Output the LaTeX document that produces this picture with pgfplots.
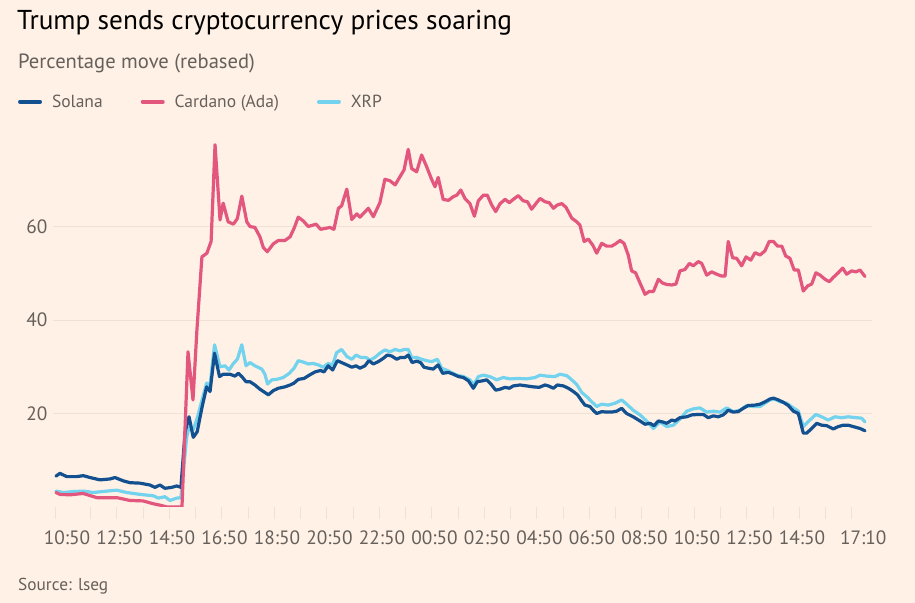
\documentclass[border=0pt]{standalone}
\usepackage{fontspec}
\setmainfont{PT Sans}
\usepackage{pgfplots}
\pgfplotsset{compat=1.18}
\definecolor{bg}{HTML}{FFF1E5}
\definecolor{sol}{HTML}{12508F}
\definecolor{ada}{HTML}{E3577F}
\definecolor{xrp}{HTML}{73D3EE}
\definecolor{txt}{HTML}{66605C}
\definecolor{grd}{HTML}{EFE2D5}
\begin{document}
\begin{tikzpicture}
\path[use as bounding box, fill=bg] (0,0) rectangle (915bp,603bp);
\node[anchor=base west, inner sep=0pt, font=\fontsize{27.3bp}{32bp}\selectfont] at (17bp,573.5bp) {Trump sends cryptocurrency prices soaring};
\node[anchor=base west, inner sep=0pt, text=txt, font=\fontsize{20.6bp}{24bp}\selectfont] at (18bp,534.5bp) {Percentage move (rebased)};
\node[anchor=base west, inner sep=0pt, text=txt, font=\fontsize{17.3bp}{20bp}\selectfont] at (18bp,13bp) {Source: lseg};
\begin{axis}[
  at={(53bp,96bp)}, anchor=south west,
  scale only axis, width=819bp, height=374bp,
  xmin=-0.533, xmax=30.667, ymin=0, ymax=80,
  axis x line*=bottom, axis y line*=left,
  axis line style={draw=none},
  ytick={20,40,60},
  ymajorgrids, grid style={grd, line width=0.9bp},
  xtick={0,2,4,6,8,10,12,14,16,18,20,22,24,26,28,30.333},
  xticklabels={10:50,12:50,14:50,16:50,18:50,20:50,22:50,00:50,02:50,04:50,06:50,08:50,10:50,12:50,14:50,17:10},
  minor xtick={-0.45,0.9,1.9,2.9,3.9,4.9,5.9,6.9,7.9,8.9,9.9,10.9,11.9,12.9,13.9,14.9,15.9,16.9,17.9,18.9,19.9,20.9,21.9,22.9,23.9,24.9,25.9,26.9,27.9,28.9,29.9},
  major tick length=0pt,
  minor tick length=12bp,
  tick align=outside,
  minor tick style={grd, line width=0.8bp},
  ticklabel style={text=txt, font=\fontsize{19.3bp}{22bp}\selectfont},
  /pgf/number format/assume math mode=true,
  xticklabel style={yshift=-20bp},
  yticklabel style={xshift=-2bp},
  legend columns=3,
  legend style={draw=none, fill=none, inner sep=0pt, outer sep=0pt,
    at={(-0.0427,1.102)}, anchor=north west,
    nodes={inner sep=0pt, text=txt, font=\fontsize{17.5bp}{20bp}\selectfont},
    /tikz/every odd column/.append style={column sep=10bp},
    /tikz/every even column/.append style={column sep=38bp}},
  legend image code/.code={\draw[#1, line width=4bp] (0bp,0bp) -- (20bp,0bp);},
  every axis plot/.append style={line width=3.2bp, line join=round, line cap=round},
]
\addlegendimage{sol}\addlegendentry{Solana}
\addlegendimage{ada}\addlegendentry{Cardano (Ada)}
\addlegendimage{xrp}\addlegendentry{XRP}
% XRP
\addplot[xrp, forget plot] coordinates {
(-0.42,3.4)(-0.14,3.1)(0.24,3.3)(0.62,3.4)(1.00,3.1)(1.51,3.4)(1.89,3.6)(2.27,3.1)(2.78,2.7)(3.29,2.4)(3.48,1.9)(3.73,2.2)(3.92,1.4)(4.18,1.9)(4.34,2.0)
(4.56,15.0)(4.65,17.0)(4.81,16.5)(4.96,19.0)(5.15,23.0)(5.32,26.5)(5.45,26.0)(5.62,34.7)(5.83,30.0)(6.02,30.2)(6.17,29.3)(6.34,30.7)(6.49,31.6)(6.66,34.7)(6.82,30.2)(6.97,30.9)(7.16,30.2)(7.42,29.5)(7.54,28.4)(7.64,26.3)(7.80,27.2)(7.99,27.3)(8.24,27.7)(8.47,28.6)(8.65,29.7)(8.81,31.3)(9.00,31.0)(9.19,30.6)(9.38,30.7)(9.57,30.4)(9.76,29.9)(9.95,30.7)(10.12,30.4)(10.27,33.0)(10.46,33.7)(10.66,32.2)(10.85,31.6)(11.01,32.5)(11.19,32.0)(11.39,32.0)(11.54,31.4)(11.73,32.0)(11.92,32.9)(12.11,33.6)(12.30,33.2)(12.50,33.7)(12.69,33.4)(12.84,33.7)(13.00,33.7)(13.13,32.0)(13.32,32.0)(13.51,31.6)(13.70,31.3)(13.89,31.1)(14.11,31.6)(14.27,29.7)(14.53,29.1)(14.59,28.9)(14.85,28.2)(15.10,27.9)(15.35,27.2)(15.50,26.2)(15.67,27.9)(15.86,28.2)(16.11,27.9)(16.37,27.2)(16.62,27.7)(16.88,27.4)(17.19,27.5)(17.51,27.4)(17.83,27.7)(18.02,28.2)(18.27,28.0)(18.59,27.9)(18.78,28.4)(19.04,28.1)(19.23,27.2)(19.42,26.2)(19.61,24.5)(19.80,23.6)(19.99,22.5)(20.18,21.5)(20.37,22.0)(20.62,21.8)(20.88,22.2)(21.13,22.9)(21.32,22.0)(21.57,20.7)(21.83,19.7)(22.08,18.4)(22.34,16.8)(22.59,18.2)(22.85,17.2)(23.10,17.5)(23.35,18.8)(23.61,20.5)(23.86,21.0)(24.11,21.2)(24.37,20.3)(24.62,20.5)(24.88,20.3)(25.13,21.2)(25.38,20.4)(25.64,20.7)(25.89,21.7)(26.14,21.5)(26.40,21.5)(26.59,22.2)(26.78,22.9)(26.97,23.1)(27.16,22.5)(27.42,22.2)(27.67,21.2)(27.86,20.5)(28.05,17.2)(28.30,18.6)(28.53,19.8)(28.75,19.3)(29.00,18.6)(29.26,19.3)(29.51,19.1)(29.76,19.3)(30.08,19.1)(30.27,19.0)(30.40,18.2)
};
% Solana
\addplot[sol, forget plot] coordinates {
(-0.42,6.6)(-0.27,7.2)(-0.01,6.5)(0.37,6.5)(0.62,6.7)(0.88,6.3)(1.26,5.8)(1.64,6.0)(1.83,6.3)(2.14,5.6)(2.40,5.2)(2.78,5.1)(3.16,4.7)(3.35,4.2)(3.54,4.7)(3.73,4.0)(3.99,4.2)(4.18,4.5)(4.34,4.2)
(4.50,16.1)(4.65,19.3)(4.81,14.9)(4.96,16.1)(5.15,21.5)(5.32,25.7)(5.45,24.7)(5.62,32.9)(5.81,27.9)(5.95,28.4)(6.21,28.4)(6.40,28.0)(6.53,28.6)(6.66,27.9)(6.82,26.8)(6.97,26.8)(7.16,26.1)(7.35,25.2)(7.54,24.5)(7.67,24.0)(7.86,24.9)(8.05,25.4)(8.30,25.7)(8.50,26.1)(8.65,26.5)(8.81,27.3)(9.03,27.5)(9.23,28.2)(9.45,28.9)(9.66,29.2)(9.79,28.9)(9.95,30.2)(10.12,29.3)(10.30,31.3)(10.46,30.9)(10.66,30.4)(10.85,29.9)(11.01,30.2)(11.16,29.7)(11.35,30.2)(11.50,31.3)(11.67,30.6)(11.86,31.1)(12.05,31.8)(12.20,32.5)(12.37,32.3)(12.56,31.6)(12.71,32.0)(12.88,32.0)(13.00,32.5)(13.15,30.9)(13.32,31.2)(13.47,30.9)(13.60,29.9)(13.76,29.7)(13.95,29.5)(14.14,30.4)(14.31,28.6)(14.53,28.8)(14.72,28.4)(14.91,27.9)(15.10,27.7)(15.29,27.0)(15.48,25.4)(15.63,26.8)(15.84,27.0)(15.99,27.2)(16.18,26.1)(16.33,25.0)(16.50,25.2)(16.69,25.6)(16.85,25.4)(17.00,25.9)(17.26,26.1)(17.51,25.9)(17.76,25.7)(17.99,25.6)(18.21,26.1)(18.34,25.9)(18.53,25.4)(18.68,26.1)(18.91,25.9)(19.10,25.4)(19.29,24.7)(19.45,24.0)(19.61,22.7)(19.73,21.8)(19.92,21.5)(20.08,20.5)(20.18,20.0)(20.37,20.4)(20.56,20.3)(20.75,20.3)(20.94,20.5)(21.13,21.1)(21.32,20.0)(21.57,19.3)(21.83,18.4)(22.02,17.7)(22.21,17.9)(22.36,17.4)(22.53,18.4)(22.69,18.2)(22.85,17.9)(23.04,18.6)(23.16,18.4)(23.35,19.1)(23.61,19.3)(23.80,19.7)(24.05,19.8)(24.24,19.8)(24.43,19.1)(24.62,19.5)(24.81,19.3)(25.00,19.7)(25.19,20.7)(25.38,20.3)(25.57,20.4)(25.76,21.1)(25.95,21.7)(26.21,21.8)(26.40,22.0)(26.59,22.5)(26.78,23.1)(26.91,23.3)(27.10,22.9)(27.29,22.4)(27.48,21.7)(27.67,20.5)(27.86,20.0)(28.05,15.8)(28.18,15.8)(28.37,16.8)(28.56,17.9)(28.75,17.5)(28.94,17.4)(29.19,16.7)(29.38,17.2)(29.57,17.5)(29.76,17.5)(29.95,17.2)(30.21,16.8)(30.40,16.3)
};
% Cardano
\addplot[ada, forget plot] coordinates {
(-0.42,3.1)(-0.27,2.7)(0.11,2.6)(0.61,2.9)(1.14,2.0)(1.90,2.0)(2.40,1.4)(2.90,1.3)(3.28,0.7)(3.54,0.4)(3.81,0.0)(4.38,0.0)
(4.61,33.2)(4.80,22.9)(4.95,37.9)(5.14,53.5)(5.33,54.3)(5.49,56.8)(5.64,77.5)(5.83,61.4)(5.95,65.0)(6.14,61.0)(6.34,60.5)(6.49,61.7)(6.66,66.5)(6.85,61.0)(6.97,60.0)(7.16,59.8)(7.35,57.8)(7.48,55.5)(7.63,54.6)(7.86,56.3)(8.05,57.0)(8.30,57.0)(8.50,57.8)(8.65,59.6)(8.81,62.0)(9.00,61.2)(9.19,60.0)(9.49,60.5)(9.66,59.4)(10.02,59.8)(10.17,59.4)(10.34,63.9)(10.46,64.4)(10.66,68.0)(10.85,61.5)(11.04,62.7)(11.16,62.0)(11.48,63.9)(11.67,62.1)(11.92,65.1)(12.11,70.1)(12.30,69.8)(12.50,68.9)(12.69,70.7)(12.84,72.1)(13.00,76.5)(13.13,72.4)(13.32,71.7)(13.51,75.3)(13.70,72.8)(13.89,70.1)(14.02,68.5)(14.14,70.5)(14.33,65.8)(14.53,65.6)(14.72,66.4)(14.85,66.7)(15.00,67.8)(15.16,66.0)(15.35,64.9)(15.52,62.2)(15.67,65.5)(15.86,66.7)(16.01,66.7)(16.18,64.6)(16.33,63.2)(16.50,64.9)(16.69,65.8)(16.85,65.1)(17.00,65.8)(17.19,66.6)(17.38,65.5)(17.54,65.3)(17.70,63.7)(17.89,65.1)(18.02,66.0)(18.21,65.3)(18.37,65.1)(18.53,63.9)(18.68,64.6)(18.85,64.9)(19.01,64.1)(19.23,61.8)(19.42,61.0)(19.54,60.3)(19.70,56.8)(19.86,57.3)(20.03,56.0)(20.18,54.3)(20.37,56.4)(20.56,55.8)(20.75,55.8)(20.90,56.3)(21.07,57.0)(21.22,56.4)(21.38,53.9)(21.51,50.5)(21.66,50.1)(21.83,47.9)(22.02,45.5)(22.18,46.1)(22.34,46.1)(22.53,48.7)(22.69,47.9)(22.85,47.6)(23.04,47.5)(23.20,47.7)(23.35,50.5)(23.54,50.8)(23.71,52.1)(23.86,51.6)(24.05,52.5)(24.18,52.1)(24.37,49.6)(24.56,50.3)(24.75,49.8)(24.94,49.4)(25.07,49.4)(25.19,56.8)(25.36,53.3)(25.51,53.2)(25.70,51.6)(25.87,53.5)(26.05,52.8)(26.21,54.4)(26.40,53.9)(26.59,54.8)(26.75,56.8)(26.91,56.8)(27.07,55.8)(27.23,55.8)(27.38,53.7)(27.54,53.2)(27.70,50.7)(27.86,50.7)(28.05,46.2)(28.22,47.3)(28.37,47.7)(28.53,50.1)(28.69,49.6)(28.88,48.7)(29.04,48.2)(29.19,49.1)(29.38,50.1)(29.55,51.1)(29.70,49.8)(29.89,50.5)(30.06,50.3)(30.21,50.7)(30.40,49.3)
};
\end{axis}
\end{tikzpicture}
\end{document}
